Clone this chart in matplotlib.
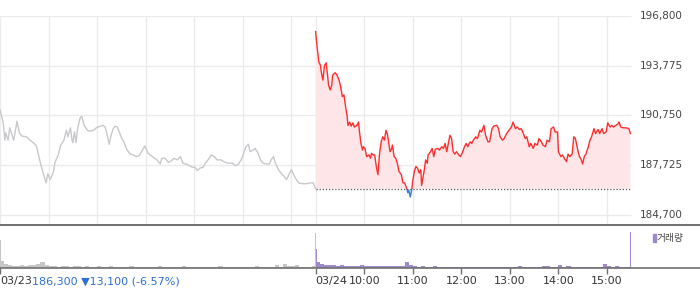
import matplotlib.pyplot as plt
from matplotlib.patches import Rectangle
import numpy as np

plt.rcParams['font.family'] = ['DejaVu Sans', 'Noto Sans CJK KR']

# 03/23 session, minutes after 09:00 and price
d1_min = [0, 4, 6, 7, 10, 12, 15, 17, 20, 21,
          24, 27, 33, 37, 41, 45, 49, 53, 57, 59,
          62, 66, 68, 72, 75, 79, 82, 84, 87, 89,
          90, 92, 94, 96, 99, 101, 104, 108, 111, 116,
          119, 121, 124, 127, 130, 132, 135, 137, 140, 142,
          145, 147, 150, 153, 157, 161, 165, 168, 172, 176,
          179, 183, 187, 191, 194, 198, 200, 204, 208, 212,
          215, 219, 223, 226, 230, 234, 238, 241, 244, 247,
          251, 254, 257, 261, 265, 268, 273, 278, 282, 287,
          291, 294, 298, 301, 304, 307, 309, 313, 315, 318,
          322, 325, 329, 333, 335, 338, 340, 344, 348, 351,
          354, 356, 360, 362, 365, 369, 374, 379, 383, 387,
          390]
d1_price = [191100, 190300, 189250, 189700, 189250, 190000, 189550, 189250, 190100, 190400,
            189700, 189500, 189450, 189250, 189100, 188900, 188050, 187300, 186650, 187200,
            186850, 187300, 187900, 188350, 188950, 189250, 189850, 189450, 190000, 189250,
            189100, 189750, 189100, 190000, 190600, 190700, 190150, 189850, 189800, 189850,
            190000, 190050, 190100, 190150, 190050, 189650, 189000, 189500, 189950, 190100,
            190050, 189800, 189400, 189150, 188650, 188400, 188350, 188250, 188300, 188650,
            188900, 188450, 188300, 188150, 188050, 187800, 188150, 188150, 187900, 188000,
            188150, 188050, 188250, 187850, 187800, 187700, 187600, 187600, 187400, 187550,
            187600, 187850, 188050, 188350, 188250, 188050, 188050, 187900, 187850, 187850,
            187700, 187750, 188050, 188450, 188850, 189000, 188550, 188650, 188750, 188550,
            188050, 187850, 187800, 187800, 188050, 188250, 187900, 187450, 187200, 187050,
            186850, 187050, 187450, 187250, 186950, 186650, 186600, 186600, 186650, 186650,
            186300]

# 03/24 session
d2_min = [0, 2, 4, 6, 7, 9, 11, 13, 15, 16,
          18, 20, 21, 24, 26, 29, 31, 33, 35, 37,
          39, 40, 42, 44, 46, 48, 51, 53, 54, 56,
          58, 59, 61, 63, 66, 68, 69, 71, 73, 75,
          77, 79, 81, 83, 85, 87, 89, 92, 94, 95,
          97, 99, 101, 103, 106, 108, 110, 112, 114, 115,
          117, 119, 120, 122, 124, 126, 128, 130, 131, 133,
          134, 136, 138, 139, 142, 144, 146, 148, 151, 153,
          156, 158, 160, 162, 164, 166, 168, 170, 172, 174,
          177, 179, 181, 184, 186, 188, 191, 193, 195, 198,
          200, 203, 205, 208, 210, 213, 215, 218, 220, 224,
          226, 228, 231, 233, 236, 239, 242, 244, 247, 249,
          252, 254, 256, 259, 261, 264, 266, 269, 271, 274,
          276, 279, 281, 284, 286, 289, 291, 294, 296, 299,
          300, 303, 305, 308, 310, 312, 314, 317, 319, 321,
          324, 326, 328, 330, 332, 334, 337, 339, 341, 344,
          346, 349, 351, 354, 356, 359, 361, 364, 366, 368,
          371, 374, 375, 377, 380, 384, 387, 389]
d2_price = [195850, 194850, 194000, 193800, 193400, 192900, 193800, 193950, 193100, 192600,
            192300, 192600, 193200, 193350, 193250, 192900, 192500, 191900, 192000, 191300,
            190700, 190150, 190350, 190100, 190300, 190050, 190150, 190350, 189850, 189050,
            188650, 188850, 188750, 188250, 188350, 188150, 188450, 188350, 188350, 187650,
            187150, 188450, 189150, 189450, 189250, 189850, 189550, 188550, 188750, 188950,
            188250, 188150, 187850, 187350, 187150, 186650, 186650, 186400, 186050, 186200,
            185800, 186300, 186750, 187350, 187650, 187550, 187250, 187450, 186500, 187050,
            187350, 188050, 187850, 188350, 188550, 188750, 188250, 188700, 188750, 188650,
            188850, 188750, 189050, 188550, 189050, 189550, 189350, 188550, 188400, 188550,
            188350, 188250, 188450, 188850, 189050, 188850, 189150, 189050, 189250, 189450,
            189350, 189850, 189750, 190150, 189550, 189150, 189150, 189950, 190100, 190150,
            189950, 189450, 189250, 189350, 189650, 189850, 190050, 190350, 189950, 190050,
            189900, 189950, 189750, 189350, 189450, 188850, 189050, 188750, 189050, 188950,
            189350, 189150, 188950, 188850, 189250, 189150, 189950, 190050, 189750, 189750,
            188550, 188250, 188350, 188100, 187950, 188400, 188250, 188400, 189450, 189350,
            188650, 188250, 188100, 187800, 188250, 188400, 188850, 189250, 189450, 189950,
            189650, 189900, 189650, 189950, 189650, 189750, 190300, 190050, 190150, 190050,
            190150, 190250, 190350, 190050, 190000, 190000, 189950, 189650]

base_price = 186300
price_ticks = [184700, 187725, 190750, 193775, 196800]
hour_labels = ['10:00', '11:00', '12:00', '13:00', '14:00', '15:00']

# volume, thousand shares per 5 minutes
vol1 = [20, 12, 9, 7, 6, 8, 6, 10, 8, 12, 17, 9, 6, 5, 4, 6, 5, 4, 7, 5,
        4, 5, 3, 4, 6, 4, 3, 5, 4, 3, 4, 3, 5, 3, 4, 3, 3, 4, 3, 5,
        3, 3, 4, 3, 3, 5, 3, 3, 4, 3, 3, 3, 4, 3, 5, 3, 3, 4, 3, 3,
        4, 3, 3, 5, 3, 4, 3, 3, 8, 4, 11, 6, 5, 9, 4, 3, 4, 5]
vol2 = [18, 12, 10, 8, 9, 7, 8, 7, 6, 7, 6, 9, 6, 5, 6, 7, 5, 5, 6, 7,
        6, 7, 17, 8, 5, 4, 5, 4, 4, 5, 4, 3, 4, 3, 4, 3, 3, 4, 3, 3,
        3, 4, 3, 3, 4, 3, 3, 3, 4, 3, 5, 3, 4, 3, 3, 4, 5, 6, 4, 3,
        8, 4, 5, 3, 4, 3, 4, 4, 3, 3, 4, 11, 5, 4, 6, 4, 3, 3]
# single-minute auction bars (open / close)
vol1_open, vol1_close = 79, 100
vol2_open, vol2_close = 54, 103

SESSION = 390
XMAX = 865

fig = plt.figure(figsize=(7, 2.89), dpi=100)
ax = fig.add_axes([0, 64 / 289, 1, 209 / 289])
vax = fig.add_axes([0, 21 / 289, 1, 42 / 289])

# price pane
ax.set_xlim(0, XMAX)
ax.set_ylim(184090, 196800)
ax.hlines(price_ticks, 0, 2 * SESSION, color='#ebebeb', lw=1, zorder=0)
vgrid = [0, 60, 120, 180, 240, 300, 360, 390, 450, 510, 570, 630, 690, 750]
ax.vlines(vgrid, 184090, 196800, color='#ebebeb', lw=1, zorder=0)

ax.plot(d1_min, d1_price, color='#c8c8cd', lw=1)

x2 = SESSION + np.array(d2_min)
p2 = np.array(d2_price)
ax.fill_between(x2, p2, base_price, where=p2 >= base_price, interpolate=True,
                color='#fde5e8', lw=0)
ax.fill_between(x2, p2, base_price, where=p2 < base_price, interpolate=True,
                color='#dde8f8', lw=0)
up, = ax.plot(x2, p2, color='#ff2d2d', lw=1)
dn, = ax.plot(x2, p2, color='#3a7ad8', lw=1)
up.set_clip_path(Rectangle((0, base_price), 2000, 50000, transform=ax.transData))
dn.set_clip_path(Rectangle((0, 150000), 2000, base_price - 150000, transform=ax.transData))
ax.hlines(base_price, SESSION, 2 * SESSION, color='#555555', lw=0.9, linestyles=(0, (1, 1.5)))

for v in price_ticks:
    ax.text(791, v, f'{v:,}', va='center', ha='left', fontsize=7.5, color='#444444', clip_on=False)

for s in ['top', 'left', 'right']:
    ax.spines[s].set_visible(False)
ax.spines['bottom'].set_color('#707070')
ax.spines['bottom'].set_linewidth(1.4)
ax.set_xticks([])
ax.set_yticks([])

# volume pane
vax.set_xlim(0, XMAX)
vax.set_ylim(0, 120)
c1 = 2.5 + 5 * np.arange(len(vol1))
c2 = SESSION + 2.5 + 5 * np.arange(len(vol2))
vax.bar(c1, vol1, width=5, color='#c6c6c6', lw=0)
vax.bar(c2, vol2, width=5, color='#9d89cb', lw=0)
vax.bar([0.6, SESSION - 0.6], [vol1_open, vol1_close], width=1.2, color='#c6c6c6', lw=0)
vax.bar([SESSION + 0.6, 2 * SESSION - 0.6], [vol2_open, vol2_close], width=1.2, color='#9d89cb', lw=0)

for s in ['top', 'left', 'right']:
    vax.spines[s].set_visible(False)
vax.spines['bottom'].set_color('#707070')
vax.spines['bottom'].set_linewidth(1.2)
vax.set_yticks([])
vax.set_xticks([0, SESSION] + [SESSION + 60 * (i + 1) for i in range(6)])
vax.set_xticklabels([])
vax.tick_params(axis='x', length=4, width=1, color='#707070')

tr = vax.get_xaxis_transform()
lab_y = -0.31
t1 = vax.text(0, lab_y, '03/23', transform=tr, ha='left', va='center', fontsize=8, color='#333333')
vax.annotate('186,300 ▼13,100 (-6.57%)', xy=(1, 0.5), xycoords=t1, ha='left', va='center',
             fontsize=8, color='#2d6fd2')
vax.text(SESSION, lab_y, '03/24', transform=tr, ha='left', va='center', fontsize=8, color='#333333')
for i, lab in enumerate(hour_labels):
    vax.text(SESSION + 60 * (i + 1), lab_y, lab, transform=tr, ha='center', va='center',
             fontsize=8, color='#333333')

fig.patches.append(Rectangle((653 / 700, 1 - 242 / 289), 2.5 / 700, 8 / 289,
                             transform=fig.transFigure, color='#9d89cb'))
fig.text(657 / 700, 1 - 238 / 289, '거래량', fontsize=7, va='center', ha='left',
         family='Noto Sans CJK KR', color='#444444')

fig.savefig('out.png', dpi=100)
